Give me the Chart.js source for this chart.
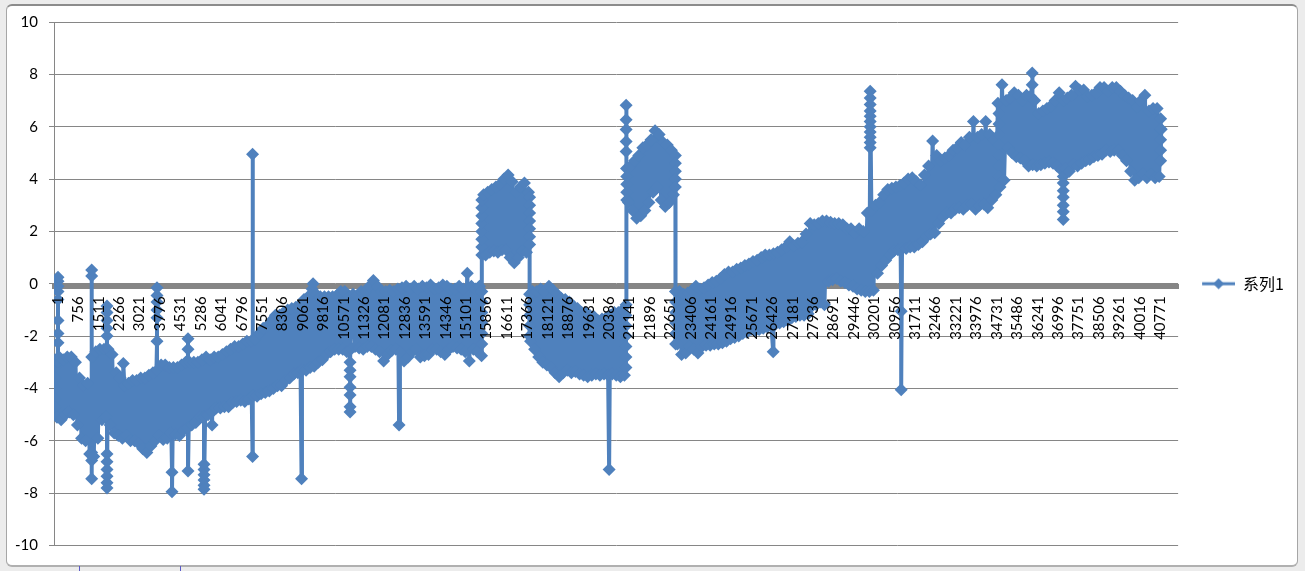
<!DOCTYPE html>
<html>
<head>
<meta charset="utf-8">
<script src="https://cdn.jsdelivr.net/npm/chart.js@4"></script>
<style>
html, body { margin: 0; padding: 0; background: #ececec; }
#sheet { position: relative; width: 1305px; height: 571px; overflow: hidden; }
#frame { position: absolute; left: 6px; top: 4px; width: 1290px; height: 559px; background: #fff; border: 1px solid #a6a6a6; border-top: 2px solid #8c8c8c; border-bottom: 2px solid #b0b0b0; border-radius: 6px; }
.mark { position: absolute; top: 566px; width: 1px; height: 5px; background: #5a5ac8; }
canvas { position: absolute; left: 0; top: 0; }
</style>
</head>
<body>
<div id="sheet">
<div id="frame"></div>
<div class="mark" style="left:79px"></div>
<div class="mark" style="left:180px"></div>
<canvas id="chart" width="1305" height="571"></canvas>
</div>
<script>
const seriesName = "系列1";
const tickLabels = [1, 756, 1511, 2266, 3021, 3776, 4531, 5286, 6041, 6796, 7551, 8306, 9061, 9816, 10571,
    11326, 12081, 12836, 13591, 14346, 15101, 15856, 16611, 17366, 18121, 18876, 19631, 20386, 21141,
    21896, 22651, 23406, 24161, 24916, 25671, 26426, 27181, 27936, 28691, 29446, 30201, 30956, 31711,
    32466, 33221, 33976, 34731, 35486, 36241, 36996, 37751, 38506, 39261, 40016, 40771];
const yTicks = [10, 8, 6, 4, 2, 0, -2, -4, -6, -8, -10];

// rough samples, one row per label interval (10 samples)
const sampleStep = 75.5;
const values = [
    -2.9,-5.1,-2.8,-5.2,-2.9,-5.0,-2.8,-4.9,-2.8,-5.0,
    -3.0,-5.4,-3.6,-5.9,-3.9,-6.0,-3.8,-6.5,-2.8,-6.6,
    -2.6,-5.9,-2.5,-5.2,-2.5,-5.1,-2.5,-5.4,-2.7,-5.7,
    -3.4,-5.8,-3.6,-5.9,-3.9,-5.8,-3.8,-6.0,-3.7,-6.0,
    -3.7,-6.1,-3.6,-6.3,-3.6,-6.45,-3.5,-6.2,-3.4,-6.0,
    -3.3,-5.8,-3.1,-5.95,-3.1,-5.9,-3.2,-5.7,-3.2,-5.75,
    -3.2,-5.8,-3.1,-5.6,-3.0,-5.5,-3.0,-5.4,-3.0,-5.3,
    -3.0,-5.1,-2.9,-5.1,-2.8,-5.0,-2.9,-4.9,-2.8,-4.75,
    -2.8,-4.75,-2.7,-4.7,-2.6,-4.7,-2.5,-4.55,-2.4,-4.5,
    -2.4,-4.45,-2.3,-4.5,-2.2,-4.4,-2.2,-4.3,-2.1,-4.3,
    -1.9,-4.2,-1.7,-4.15,-1.6,-4.1,-1.4,-4.0,-1.2,-3.9,
    -1.2,-3.9,-1.1,-3.7,-1.0,-3.6,-0.95,-3.45,-0.9,-3.4,
    -0.8,-3.3,-0.6,-3.3,-0.5,-3.2,-0.2,-3.15,-0.4,-3.0,
    -0.5,-2.9,-0.5,-2.7,-0.5,-2.6,-0.5,-2.5,-0.45,-2.5,
    -0.3,-2.5,-0.3,-2.6,-0.5,-2.5,-0.4,-2.4,-0.45,-2.45,
    -0.3,-2.5,-0.3,-2.4,-0.1,-2.4,0.12,-2.5,-0.1,-2.6,
    -0.3,-2.95,-0.3,-2.7,-0.25,-2.55,-0.3,-2.5,-0.2,-2.6,
    -0.15,-2.95,-0.1,-2.8,-0.2,-2.6,-0.1,-2.5,-0.2,-2.8,
    -0.1,-2.75,-0.15,-2.7,-0.05,-2.5,-0.2,-2.5,-0.15,-2.6,
    -0.05,-2.7,-0.1,-2.5,-0.2,-2.4,-0.2,-2.45,-0.1,-2.5,
    -0.2,-2.6,0.4,-2.95,-0.1,-2.5,-0.2,-2.6,-0.1,-2.75,
    3.4,1.1,3.5,1.2,3.6,1.25,3.7,1.2,3.8,1.3,
    4.0,1.3,4.15,1.0,3.9,0.8,3.5,1.0,3.7,1.25,
    3.85,1.2,3.5,-2.2,-0.3,-2.5,-0.3,-2.8,-0.2,-3.0,
    -0.3,-3.1,-0.1,-3.2,-0.25,-3.4,-0.4,-3.55,-0.55,-3.4,
    -0.6,-3.3,-0.7,-3.4,-0.85,-3.35,-0.95,-3.45,-1.1,-3.5,
    -1.1,-3.55,-1.2,-3.5,-1.25,-3.45,-1.4,-3.5,-1.35,-3.45,
    -1.3,-3.5,-1.2,-3.45,-1.1,-3.5,-1.1,-3.55,-1.0,-3.5,
    4.4,3.1,4.5,2.8,4.7,2.5,4.9,2.6,5.2,2.8,
    5.3,3.1,5.5,3.5,5.85,3.7,5.7,3.2,5.4,2.95,
    5.3,3.1,5.1,3.4,-0.3,-2.3,-0.3,-2.7,-0.4,-2.65,
    -0.35,-2.4,-0.25,-2.5,-0.1,-2.65,-0.2,-2.4,-0.15,-2.35,
    -0.05,-2.35,0.05,-2.3,0.1,-2.3,0.2,-2.25,0.35,-2.2,
    0.45,-2.1,0.45,-2.05,0.55,-2.0,0.6,-1.9,0.7,-1.85,
    0.75,-1.75,0.85,-1.8,0.9,-1.75,1.0,-1.7,1.1,-1.65,
    1.1,-1.6,1.15,-1.55,1.2,-1.5,1.3,-1.45,1.4,-1.4,
    1.6,-1.3,1.45,-1.25,1.55,-1.2,1.6,-1.2,1.9,-1.15,
    2.3,-0.85,2.25,-0.8,2.3,-0.7,2.4,-0.8,2.4,0.1,
    2.35,0.15,2.3,0.2,2.3,0.1,2.25,0.05,2.1,-0.05,
    2.1,-0.1,1.95,-0.2,2.1,-0.25,2.0,-0.3,2.7,-0.3,
    2.8,-0.25,3.0,0.4,3.1,0.7,3.4,0.9,3.6,1.1,
    3.65,1.25,3.7,1.3,3.75,1.35,3.85,1.35,4.0,1.4,
    4.05,1.4,3.9,1.5,3.77,1.6,4.15,1.8,4.5,1.9,
    5.45,1.95,4.9,2.3,4.7,2.55,4.8,2.7,4.9,2.7,
    5.1,2.85,5.2,2.9,5.4,2.85,5.3,3.0,5.6,3.05,
    6.2,2.85,5.6,3.0,5.7,3.05,6.2,2.9,5.7,3.2,
    5.5,3.4,6.9,3.7,7.6,3.95,7.0,5.2,7.1,5.0,
    7.3,4.85,7.2,4.8,7.0,4.7,7.2,4.5,7.15,4.55,
    7.0,4.5,6.5,4.55,6.6,4.6,6.7,4.65,6.8,4.6,
    7.0,4.5,7.3,4.35,7.0,4.4,7.1,4.3,7.2,4.55,
    7.55,4.5,7.4,4.6,7.4,4.7,7.15,4.75,7.2,4.85,
    7.3,4.9,7.5,4.95,7.5,5.1,7.35,5.05,7.5,5.1,
    7.5,5.1,7.35,4.9,7.2,4.7,7.1,4.3,7.0,3.95,
    6.75,4.05,7.0,4.2,7.2,4.05,6.6,4.2,6.7,4.05,
    6.7,4.1,5.9
];

// outliers that stick out of the band, and the stacks of points on the steep block edges
const spikeAt = [1, 112, 1359, 1925, 2528, 3775, 4330, 4922, 5514, 5810, 7309, 9122, 9547, 10916, 12729,
    15790, 17558, 20499, 21120, 21128, 21150, 22950, 22960, 26567, 30156, 31303, 34920, 36150, 37297, 40900];
const spikeValues = [
    [-3.2, -3.6, -4, -4.4, -4.7],
    [-2.25, -1.9, -1.4, -0.6, -0.3, -0.1, 0.1, 0.25, -3],
    [-6.45, -7.45, -6.75, 0.3, 0.53],
    [-2, -1.7, -1.4, -1.1, -0.85, -6.5, -6.8, -7.1, -7.35, -7.6, -7.8],
    [-3.05],
    [-2.2, -1.3, -1, -0.7, -0.45, -0.15],
    [-7.2, -7.95],
    [-2.1, -2.5, -7.15],
    [-6.9, -7.1, -7.3, -7.5, -7.7, -7.85],
    [-5.4],
    [-6.6, 4.95],
    [-7.45],
    [0],
    [-3, -3.3, -3.55, -3.95, -4.25, -4.7, -4.9],
    [-5.4],
    [-0.3, -0.7, -1.1, -1.5, -1.9, -2.3, 1.1, 1.4, 1.7, 2, 2.3, 2.6, 2.9, 3.2],
    [3.3, 3, 2.7, 2.4, 2.1, 1.8, 1.5, -0.4, -0.8, -1.2, -1.6, -2],
    [-7.1],
    [-1.2, -1.6, -2, -2.4, -2.8, -3.2],
    [-0.8, 5.05, 5.43, 5.89, 6.27, 6.82],
    [4.1, 3.8, 3.5, 3.2],
    [4.9, 4.6, 4.3, 4, 3.7],
    [-0.7, -1.1, -1.5, -1.9, -2.3],
    [-2.6],
    [5.2, 5.4, 5.6, 5.8, 6, 6.2, 6.4, 6.6, 6.85, 7.1, 7.35],
    [-1.05, -4.05],
    [6.5, 6.1, 5.7, 5.3, 4.9, 4.5, 4.1],
    [7.6, 8.05],
    [4.1, 3.85, 3.55, 3.3, 3, 2.75, 2.45],
    [6.3, 5.9, 5.5, 5.1, 4.7]
];

const points = values.map((v, i) => ({ x: 1 + i * sampleStep, y: v }));
spikeAt.forEach((at, s) => {
    const pos = points.findIndex(p => p.x > at);
    points.splice(pos, 0, ...spikeValues[s].map(v => ({ x: at, y: v })));
});

const blue = '#4f81bd';

// legend key: line with a diamond on it, blank on the left to push it away from the plot
const legendKey = document.createElement('canvas');
legendKey.width = 47;
legendKey.height = 12;
const kc = legendKey.getContext('2d');
kc.fillStyle = blue;
kc.fillRect(14, 4.5, 33, 3);
kc.beginPath();
kc.moveTo(30.5, 0.5);
kc.lineTo(36, 6);
kc.lineTo(30.5, 11.5);
kc.lineTo(25, 6);
kc.closePath();
kc.fill();

new Chart(document.getElementById('chart'), {
    type: 'line',
    data: {
        datasets: [{
            label: seriesName,
            data: points,
            borderColor: blue,
            backgroundColor: blue,
            borderWidth: 4,
            borderJoinStyle: 'round',
            pointStyle: 'rectRot',
            pointRadius: 6.5,
            pointBorderWidth: 0,
            tension: 0
        }]
    },
    options: {
        responsive: false,
        animation: false,
        layout: { padding: { top: 22, bottom: 25.5, right: 11 } },
        scales: {
            x: {
                type: 'linear',
                min: -36,
                max: 41547,
                position: { y: -0.1 },
                afterBuildTicks: s => { s.ticks = tickLabels.map(v => ({ value: v })); },
                grid: { display: false },
                border: { color: '#868686', width: 5, z: 0 },
                ticks: {
                    z: 1,
                    autoSkip: false,
                    minRotation: 90,
                    maxRotation: 90,
                    padding: 2,
                    labelOffset: 3,
                    color: '#000',
                    font: { family: 'Lato', size: 15 },
                    callback: v => String(v)
                }
            },
            y: {
                min: -10,
                max: 10,
                afterBuildTicks: s => { s.ticks = yTicks.map(v => ({ value: v })); },
                afterFit: s => { s.width = 54; },
                grid: { color: '#868686', lineWidth: 1, tickLength: 5, drawTicks: true },
                border: { color: '#868686', width: 1 },
                ticks: {
                    padding: 11,
                    color: '#000',
                    font: { family: 'Lato', size: 15 }
                }
            }
        },
        plugins: {
            title: { display: false },
            tooltip: { enabled: false },
            legend: {
                position: 'right',
                align: 'center',
                labels: {
                    usePointStyle: true,
                    pointStyleWidth: 47,
                    color: '#000',
                    font: { family: 'Noto Sans CJK SC', size: 16 },
                    padding: 10,
                    generateLabels: () => [{ text: seriesName, pointStyle: legendKey, fontColor: '#000', lineWidth: 0, strokeStyle: 'transparent', fillStyle: blue }]
                }
            }
        }
    }
});
</script>
</body>
</html>
